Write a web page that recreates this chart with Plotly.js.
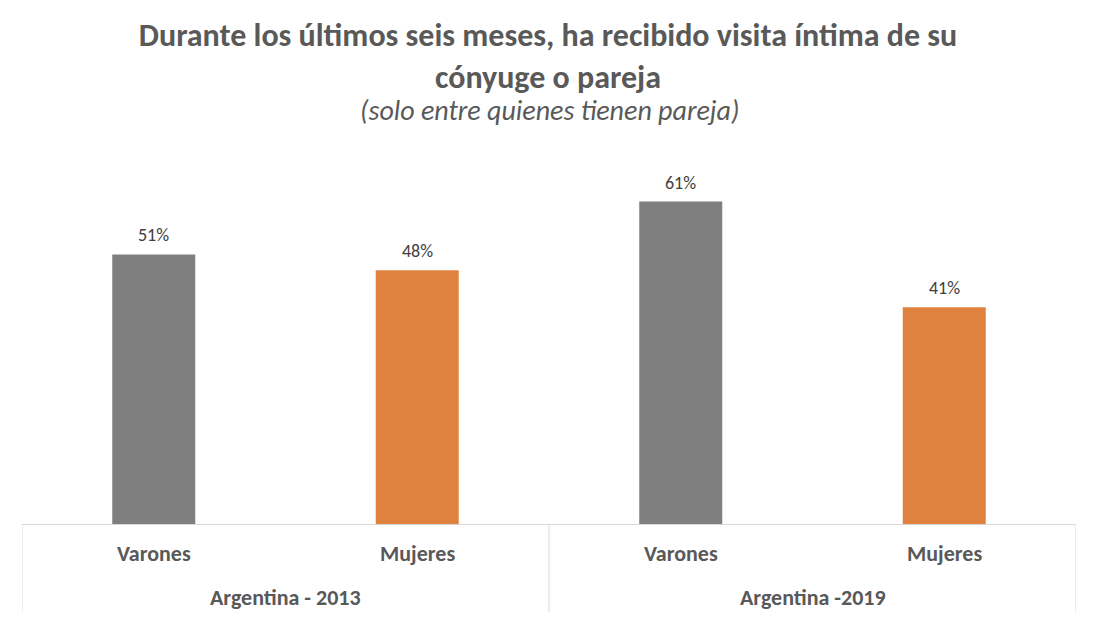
<!DOCTYPE html>
<html>
<head>
<meta charset="utf-8">
<script src="https://cdn.plot.ly/plotly-3.0.1.min.js"></script>
<style>html,body{margin:0;padding:0;background:#fff;}#chart{width:1096px;height:622px;}</style>
</head>
<body>
<div id="chart"></div>
<script>
const groups = ["Argentina - 2013", "Argentina - 2013", "Argentina -2019", "Argentina -2019"];
const sexes = ["Varones", "Mujeres", "Varones", "Mujeres"];
const values = [51, 48, 61, 41];
const barColors = ["#7f7f7f", "#e0823f", "#7f7f7f", "#e0823f"];
const titleText = "Durante los últimos seis meses, ha recibido visita íntima de su<br>cónyuge o pareja";
const subtitleText = "(solo entre quienes tienen pareja)";

const FONT = "Carlito, Lato, 'Liberation Sans', sans-serif";
const LABEL = "#595959";
const LINE = "#d9d9d9";

const idx = values.map((_, i) => i);

const trace = {
  type: "bar",
  x: idx,
  y: values,
  marker: {color: barColors},
  width: 0.315,
  hoverinfo: "none"
};

const annotations = [];
// data labels
values.forEach((v, i) => annotations.push({
  x: i, y: v, xref: "x", yref: "y",
  text: v + "%", showarrow: false,
  yanchor: "bottom", yshift: 6,
  font: {family: FONT, size: 18, color: "#404040"}
}));
// category labels
sexes.forEach((s, i) => annotations.push({
  x: i, y: 0, xref: "x", yref: "paper",
  text: "<b>" + s + "</b>", showarrow: false,
  yanchor: "middle", yshift: -29,
  font: {family: FONT, size: 22, color: LABEL}
}));
// group labels
const uniqueGroups = [...new Set(groups)];
uniqueGroups.forEach(g => {
  const members = idx.filter(i => groups[i] === g);
  const center = (members[0] + members[members.length - 1]) / 2;
  annotations.push({
    x: center, y: 0, xref: "x", yref: "paper",
    text: "<b>" + g + "</b>", showarrow: false,
    yanchor: "middle", yshift: -73,
    font: {family: FONT, size: 22, color: LABEL}
  });
});
// subtitle
annotations.push({
  xref: "paper", yref: "paper", x: 0.5, y: 1, yshift: 44,
  yanchor: "middle",
  text: "<i>" + subtitleText + "</i>",
  showarrow: false,
  font: {family: FONT, size: 28, color: LABEL}
});

// divider lines between groups and at the ends
const dividers = [-0.5];
uniqueGroups.forEach(g => {
  const members = idx.filter(i => groups[i] === g);
  dividers.push(members[members.length - 1] + 0.5);
});
const shapes = dividers.map(d => ({
  type: "line", xref: "x", yref: "paper",
  x0: d, x1: d,
  ysizemode: "pixel", yanchor: 0, y0: 0, y1: -88,
  line: {color: LINE, width: 1}
}));

const layout = {
  width: 1096, height: 622,
  margin: {l: 22, r: 20, t: 154, b: 98},
  paper_bgcolor: "#ffffff",
  plot_bgcolor: "#ffffff",
  showlegend: false,
  title: {
    text: "<b>" + titleText + "</b>",
    x: 0.5, xanchor: "center",
    yref: "container", y: 1 - 46 / 622, yanchor: "top",
    font: {family: FONT, size: 32, color: LABEL}
  },
  xaxis: {
    range: [-0.5, 3.5],
    showline: true, linecolor: LINE, linewidth: 1,
    showticklabels: false, ticks: "",
    showgrid: false, zeroline: false, fixedrange: true
  },
  yaxis: {
    range: [0, 70], visible: false, showgrid: false, zeroline: false
  },
  annotations: annotations,
  shapes: shapes
};

Plotly.newPlot("chart", [trace], layout, {displayModeBar: false, staticPlot: true});
</script>
</body>
</html>
